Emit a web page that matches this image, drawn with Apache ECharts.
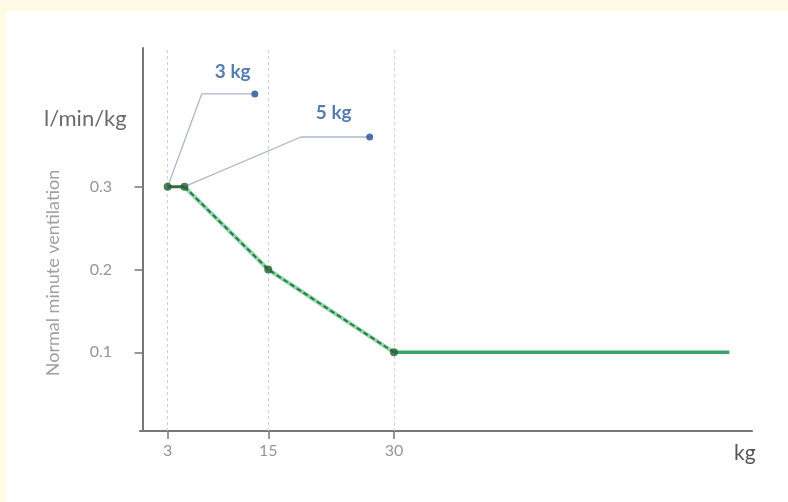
<!DOCTYPE html>
<html><head><meta charset="utf-8">
<script src="https://cdn.jsdelivr.net/npm/echarts@6/dist/echarts.min.js"></script>
<style>html,body{margin:0;padding:0;background:#fffbe6;}#c{width:788px;height:502px;}</style>
</head><body><div id="c"></div>
<script>
const weights = [3, 5, 15, 30, 70];
const ventilation = [0.3, 0.3, 0.2, 0.1, 0.1];
const xTicks = [3, 15, 30];
const yTicks = [0.1, 0.2, 0.3];
const lead3 = [[3, 0.3], [7.06, 0.412], [13.4, 0.412]];
const lead5 = [[5, 0.3], [18.9, 0.36], [27.1, 0.36]];
const labelPts = [[10.76, 0.4385, '3 kg'], [22.8, 0.389, '5 kg']];

const pts = weights.map((w, i) => [w, ventilation[i]]);
const firstSeg = pts.slice(0, 2);
const dashedSeg = pts.slice(1, 4);
const solidSeg = pts.slice(3, 5);
const markers = pts.slice(0, 4);
const fontF = 'Lato, "Open Sans", sans-serif';

const chart = echarts.init(document.getElementById('c'));
chart.setOption({
  backgroundColor: '#fffbe6',
  animation: false,
  graphic: [
    {type: 'rect', z: -10, silent: true, shape: {x: 6, y: 11, width: 782, height: 491}, style: {fill: '#ffffff'}},
    {type: 'text', left: 44, top: 108, style: {text: 'l/min/kg', fontSize: 22, fill: '#6a6a6a', fontFamily: fontF}},
    {type: 'text', left: 734, top: 443, style: {text: 'kg', fontSize: 21, fill: '#555555', fontFamily: fontF}},
    {type: 'text', x: 53, y: 273, rotation: Math.PI / 2,
     style: {text: 'Normal minute ventilation', fontSize: 18, fill: '#a0a0a0', fontFamily: fontF, align: 'center', verticalAlign: 'middle'}}
  ],
  grid: {left: 140, top: 48, right: 36, bottom: 71},
  xAxis: {
    type: 'value', min: -0.3, max: 72.7,
    axisLine: {show: true, lineStyle: {color: '#777', width: 2}},
    axisTick: {show: true, customValues: xTicks, length: 8, lineStyle: {color: '#777', width: 1.5}},
    axisLabel: {customValues: xTicks, color: '#959595', fontSize: 16, margin: 12, fontFamily: fontF},
    splitLine: {show: false}
  },
  yAxis: {
    type: 'value', min: 0.005, max: 0.4675,
    axisLine: {show: true, lineStyle: {color: '#777', width: 2}},
    axisTick: {show: true, customValues: yTicks, length: 8, lineStyle: {color: '#777', width: 1.5}},
    axisLabel: {customValues: yTicks, color: '#959595', fontSize: 16, margin: 28, fontFamily: fontF, formatter: v => v.toFixed(1)},
    splitLine: {show: false}
  },
  series: [
    {type: 'line', data: [], silent: true,
     markLine: {silent: true, symbol: 'none', label: {show: false},
       lineStyle: {color: '#cfcfcf', type: [3, 3], width: 1},
       data: xTicks.map(v => ({xAxis: v}))}},
    {type: 'line', data: lead3, symbol: 'none', lineStyle: {color: '#a9b8cd', width: 1.3}, z: 3},
    {type: 'line', data: lead5, symbol: 'none', lineStyle: {color: '#a9b8cd', width: 1.3}, z: 3},
    {type: 'scatter', data: [lead3[2], lead5[2]], symbolSize: 7, itemStyle: {color: '#1f4f8f'}, z: 4},
    {type: 'scatter', data: labelPts.map(p => [p[0], p[1]]), symbolSize: 0,
     label: {show: true, position: 'inside', formatter: p => labelPts[p.dataIndex][2],
       color: '#2b5c9c', fontSize: 19, fontWeight: 'bold', fontFamily: fontF}, z: 5},
    {type: 'line', data: dashedSeg, symbol: 'none', lineStyle: {color: '#8fd6a8', width: 4}, z: 5},
    {type: 'line', data: dashedSeg, symbol: 'none', lineStyle: {color: '#2b7a45', width: 2, type: [5, 3]}, z: 6},
    {type: 'line', data: solidSeg, symbol: 'none', lineStyle: {color: '#3aa36a', width: 3.5}, z: 6},
    {type: 'line', data: firstSeg, symbol: 'none', lineStyle: {color: '#2f6e3c', width: 3}, z: 7},
    {type: 'scatter', data: markers, symbolSize: 8, itemStyle: {color: '#245f34'}, z: 8}
  ]
});
</script></body></html>
